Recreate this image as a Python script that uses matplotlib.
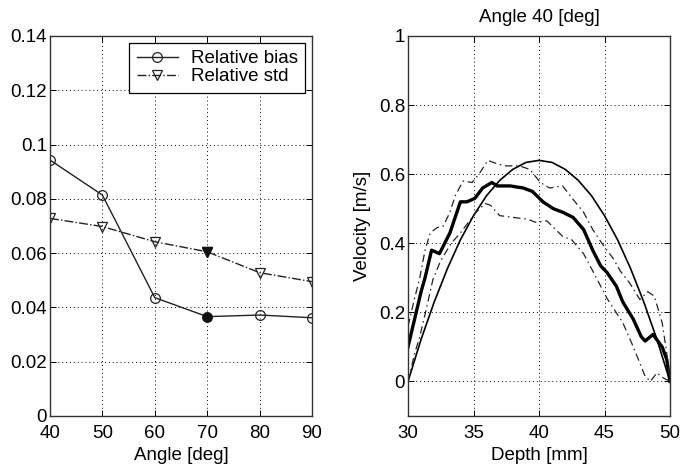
import matplotlib
matplotlib.use("Agg")
import matplotlib.pyplot as plt
import numpy as np

plt.rcParams['font.family'] = ['Liberation Sans', 'DejaVu Sans']
FS = 13.5
plt.rcParams['font.size'] = FS

# ---- Left panel data ----
angles = [40, 50, 60, 70, 80, 90]
rel_bias = [0.0943, 0.0814, 0.0436, 0.0366, 0.0372, 0.0362]
rel_std = [0.0728, 0.0698, 0.0642, 0.0605, 0.0528, 0.0495]

# ---- Right panel data ----
true_depth = [30, 31, 32, 33, 34, 35, 36, 37, 38, 39, 40, 41, 42, 43, 44, 45, 46, 47, 48, 49, 50]
true_vel = [0.0, 0.122, 0.230, 0.326, 0.410, 0.480, 0.538, 0.582, 0.614, 0.634, 0.640,
            0.634, 0.614, 0.582, 0.538, 0.480, 0.410, 0.326, 0.230, 0.122, 0.0]

mean_depth = [30, 30.5, 31, 31.3, 31.8, 32.4, 33.2, 34.0, 34.5, 35.1, 35.7, 36.4, 36.8, 37.8,
              38.8, 39.5, 40.3, 41.1, 41.8, 42.6, 43.4, 44.1, 44.7, 45.2, 45.9, 46.4, 47.2,
              47.8, 48.1, 48.7, 49.4, 49.75, 50]
mean_vel = [0.10, 0.18, 0.26, 0.30, 0.38, 0.37, 0.43, 0.52, 0.52, 0.53, 0.56, 0.576, 0.566, 0.566,
            0.56, 0.55, 0.52, 0.50, 0.49, 0.475, 0.44, 0.38, 0.335, 0.315, 0.276, 0.23, 0.18,
            0.13, 0.117, 0.136, 0.10, 0.064, 0.0]

upper_depth = [30, 30.5, 30.9, 31.3, 31.7, 32.2, 32.7, 33.2, 33.6, 34.2, 34.9, 35.5, 36.1, 36.8,
               37.5, 38.5, 39.3, 40.1, 40.8, 41.8, 42.6, 43.4, 44.1, 44.8, 45.7, 46.2, 46.9,
               47.7, 48.3, 48.8, 49.4, 49.75, 50]
upper_vel = [0.16, 0.24, 0.30, 0.38, 0.43, 0.445, 0.45, 0.49, 0.537, 0.58, 0.576, 0.605, 0.64, 0.63,
             0.624, 0.624, 0.614, 0.576, 0.56, 0.566, 0.527, 0.49, 0.44, 0.40, 0.354, 0.32, 0.286,
             0.237, 0.26, 0.247, 0.17, 0.083, 0.0]

lower_depth = [30, 30.5, 30.9, 31.4, 31.9, 32.5, 33.3, 34.0, 34.6, 35.2, 35.9, 36.3, 37.0, 38.0,
               39.1, 39.8, 40.6, 41.1, 41.8, 42.5, 43.4, 44.1, 45.2, 46.4, 47.2, 48.1, 48.5,
               49.0, 49.5, 50]
lower_vel = [0.0, 0.08, 0.13, 0.21, 0.295, 0.35, 0.40, 0.43, 0.46, 0.49, 0.515, 0.51, 0.48, 0.475,
             0.47, 0.46, 0.465, 0.446, 0.42, 0.41, 0.37, 0.32, 0.24, 0.17, 0.10, 0.015, 0.0,
             0.025, 0.01, 0.0]

fig = plt.figure(figsize=(6.8, 4.66), dpi=100)
axL = fig.add_axes([50/680, 1-416/466, 262/680, 380/466])
axR = fig.add_axes([408/680, 1-416/466, 262/680, 380/466])

def style(ax):
    ax.grid(True, linestyle=(0, (1, 3)), color='black', linewidth=0.7)
    ax.tick_params(direction='in', top=True, right=True, length=4, width=0.7,
                   labelsize=FS, colors='black')
    ax.tick_params(axis='y', pad=2)
    ax.tick_params(axis='x', pad=6.5)
    for s in ax.spines.values():
        s.set_linewidth(1.0)
        s.set_color('#333333')

# Left panel
axL.plot(angles, rel_bias, '-o', color='#222222', lw=1.0, ms=7, mfc='none', mew=0.9,
         label='Relative bias')
axL.plot(angles, rel_std, '-.v', color='#222222', lw=1.0, ms=7, mfc='none', mew=0.9,
         label='Relative std')
axL.plot(angles[3], rel_std[3], 'v', color='#111111', ms=7)
axL.plot(angles[3], rel_bias[3], 'o', color='#111111', ms=6)
axL.set_xlim(40, 90)
axL.set_ylim(0, 0.14)
axL.set_xticks(angles)
axL.set_yticks([0, 0.02, 0.04, 0.06, 0.08, 0.1, 0.12, 0.14])
axL.set_yticklabels(['0', '0.02', '0.04', '0.06', '0.08', '0.1', '0.12', '0.14'])
axL.set_xlabel('Angle [deg]', fontsize=FS, labelpad=3.5)
style(axL)
leg = axL.legend(loc='upper right', fontsize=FS, frameon=True, fancybox=False,
                 edgecolor='black', framealpha=1, borderpad=0.4, handlelength=2.2,
                 handletextpad=0.7, labelspacing=0.05, borderaxespad=0.35)
leg.get_frame().set_linewidth(0.9)

# Right panel
axR.plot(true_depth, true_vel, '-', color='black', lw=1.2)
axR.plot(mean_depth, mean_vel, '-', color='black', lw=2.4)
axR.plot(upper_depth, upper_vel, linestyle=(0, (6, 3, 1.2, 3)), color='#222222', lw=0.9)
axR.plot(lower_depth, lower_vel, linestyle=(0, (6, 3, 1.2, 3)), color='#222222', lw=0.9)
axR.set_xlim(30, 50)
axR.set_ylim(-0.1, 1.0)
axR.set_xticks([30, 35, 40, 45, 50])
axR.set_yticks([0, 0.2, 0.4, 0.6, 0.8, 1.0])
axR.set_yticklabels(['0', '0.2', '0.4', '0.6', '0.8', '1'])
axR.set_xlabel('Depth [mm]', fontsize=FS, labelpad=3.5)
axR.set_ylabel('Velocity [m/s]', fontsize=FS, labelpad=6)
axR.set_title('Angle 40 [deg]', fontsize=FS, pad=10)
style(axR)

fig.savefig('out.png', dpi=100, facecolor='white')
